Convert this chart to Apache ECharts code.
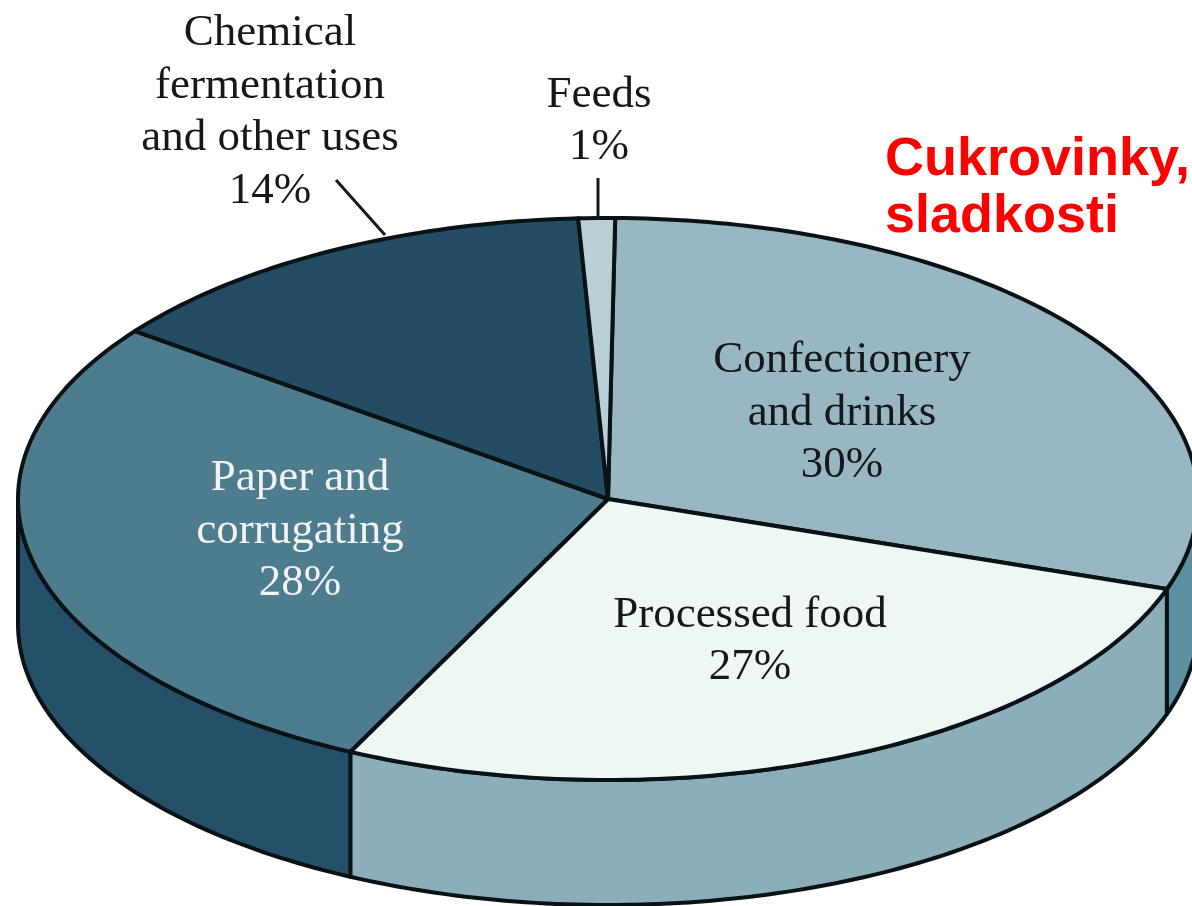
<!DOCTYPE html>
<html>
<head>
<meta charset="utf-8">
<style>html,body{margin:0;padding:0;background:#fff}#c{width:1192px;height:906px}</style>
<script src="https://cdn.jsdelivr.net/npm/echarts@6/dist/echarts.min.js"></script>
</head>
<body>
<div id="c"></div>
<script>
var categories = ["Confectionery\nand drinks", "Processed food", "Paper and\ncorrugating", "Chemical\nfermentation\nand other uses", "Feeds"];
var values = [30, 27, 28, 14, 1];
var topColors = ["#99b7c2", "#eef6f6", "#4e7c8f", "#234d62", "#b9cfd7"];
var sideColors = ["#5c8fa1", "#8cadba", "#25506a", "#234d62", "#b9cfd7"];
var textColors = ["#15171a", "#15171a", "#f1f4f2", "#15171a", "#15171a"];
var labelAnchors = [[842, 413], [750, 641], [300, 531], [270, 112], [599, 121]];
var leaders = [null, null, null, [[336, 180], [385, 235]], [[598, 178], [598, 219]]];
var annotationLines = "Cukrovinky,\nsladkosti";

var CX = 608, CY = 499, RX = 590, RY = 281, DEPTH = 125, START = 0.7, STROKE = 4;
var total = values.reduce(function (a, b) { return a + b; }, 0);

function pt(deg, dy) {
  var r = deg * Math.PI / 180;
  return [CX + RX * Math.sin(r), CY - RY * Math.cos(r) + (dy || 0)];
}
function arc(a0, a1, dy) {
  var pts = [], n = Math.max(2, Math.ceil(Math.abs(a1 - a0)));
  for (var i = 0; i <= n; i++) pts.push(pt(a0 + (a1 - a0) * i / n, dy));
  return pts;
}
function renderSlice(params, api) {
  var i = params.dataIndex, before = 0;
  for (var k = 0; k < i; k++) before += values[k];
  var v = api.value(0);
  var a0 = START + before / total * 360, a1 = a0 + v / total * 360;
  var children = [];
  // visible wall
  var w0 = Math.max(a0, 90), w1 = Math.min(a1, 270);
  if (w1 > w0) {
    children.push({
      type: "polygon", z2: 1,
      shape: { points: arc(w0, w1, 0).concat(arc(w1, w0, DEPTH)) },
      style: { fill: sideColors[i], stroke: "#0b1216", lineWidth: STROKE, lineJoin: "round" }
    });
  }
  // top face
  children.push({
    type: "polygon", z2: 2,
    shape: { points: [[CX, CY]].concat(arc(a0, a1, 0)) },
    style: { fill: topColors[i], stroke: "#0b1216", lineWidth: STROKE, lineJoin: "round" }
  });
  // label
  children.push({
    type: "text", z2: 5,
    style: {
      x: labelAnchors[i][0], y: labelAnchors[i][1],
      text: categories[i] + "\n" + v + "%",
      fill: textColors[i], align: "center", verticalAlign: "middle",
      font: "45px 'Liberation Serif'", lineHeight: 52.5
    }
  });
  if (leaders[i]) {
    children.push({
      type: "polyline", z2: 3,
      shape: { points: leaders[i] },
      style: { fill: null, stroke: "#15171a", lineWidth: 3 }
    });
  }
  return { type: "group", children: children };
}

var chart = echarts.init(document.getElementById("c"), null, { renderer: "canvas" });
chart.setOption({
  animation: false,
  backgroundColor: "#ffffff",
  series: [{
    type: "custom",
    coordinateSystem: "none",
    silent: true,
    clip: false,
    renderItem: renderSlice,
    data: values.map(function (v, i) { return { name: categories[i], value: [v] }; })
  }],
  graphic: [{
    type: "text", left: 885, top: 132, z: 10,
    style: {
      text: annotationLines, fill: "#ff0000",
      font: "bold 54px 'Liberation Sans'", lineHeight: 57
    }
  }]
});
</script>
</body>
</html>
